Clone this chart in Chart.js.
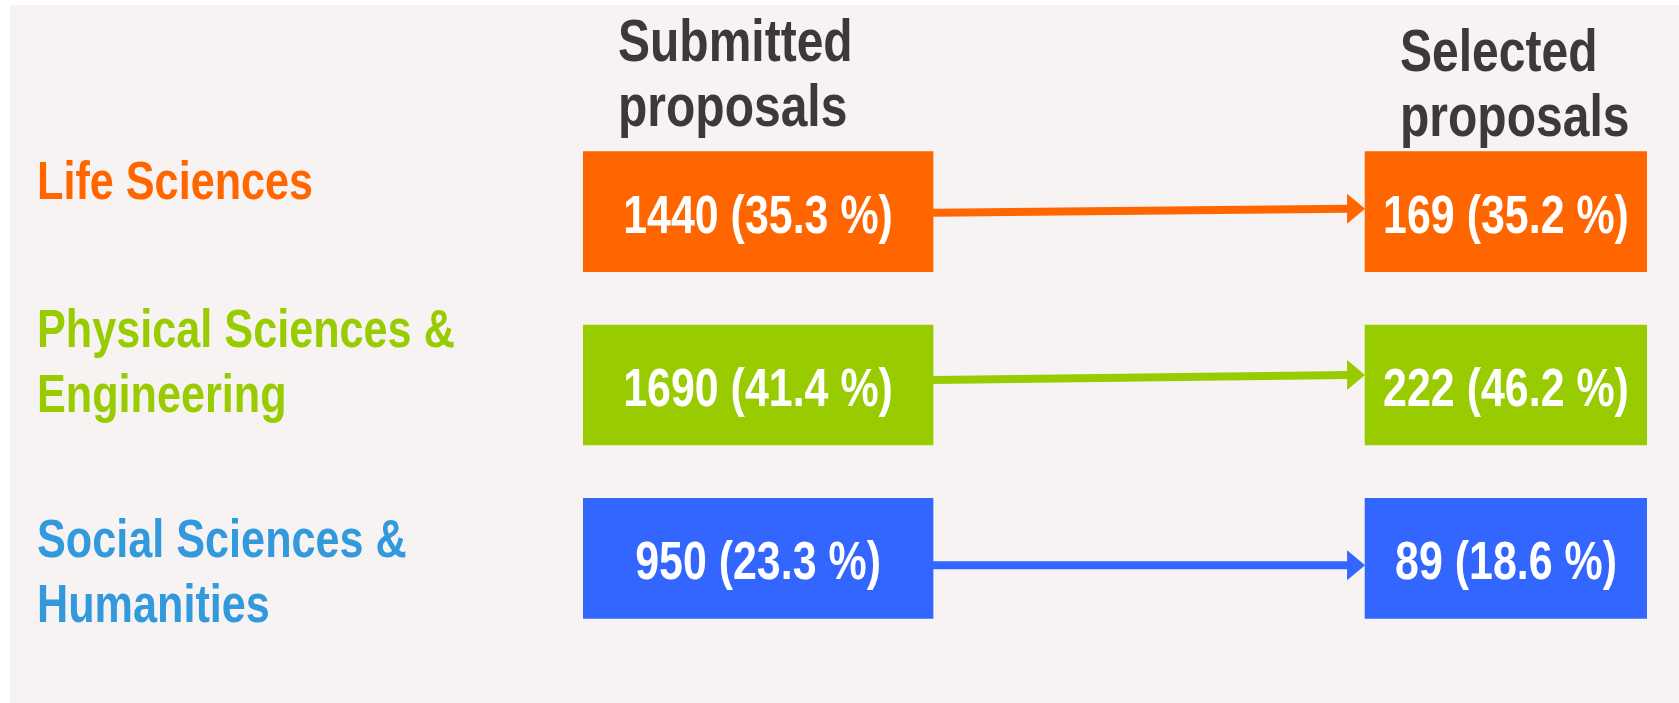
<!DOCTYPE html>
<html>
<head>
<meta charset="utf-8">
<script src="https://cdn.jsdelivr.net/npm/chart.js@4.4.0/dist/chart.umd.min.js"></script>
<style>
  html, body { margin: 0; padding: 0; background: #ffffff; }
  #wrap { width: 1679px; height: 703px; }
</style>
</head>
<body>
<div id="wrap"><canvas id="chart" width="1679" height="703"></canvas></div>
<script>
// data
let fields = ['Life Sciences', 'Physical Sciences & Engineering', 'Social Sciences & Humanities'];
let fieldLines = [['Life Sciences'], ['Physical Sciences &', 'Engineering'], ['Social Sciences &', 'Humanities']];
let columns = ['Submitted proposals', 'Selected proposals'];
let columnLines = [['Submitted', 'proposals'], ['Selected', 'proposals']];
let submitted = [1440, 1690, 950];
let submittedPct = [35.3, 41.4, 23.3];
let selected = [169, 222, 89];
let selectedPct = [35.2, 46.2, 18.6];

// look and layout
let boxColors = ['#ff6600', '#99cc00', '#3366ff'];
let labelColors = ['#ff6600', '#99cc00', '#3399dd'];
let headColor = '#3f3838';
let bgColor = '#f7f3f3';
let colSpans = [[0, 0.329], [0.735, 1]];
let labelDy = [-13, -38, -1];
let arrowDy = [[1, -3], [-5, -10], [7, 7]];
let headDy = [-91, -81];
let fontFamily = "'Liberation Sans', Arial, sans-serif";

function drawText(ctx, text, x, y, size, color, align, sx) {
  ctx.save();
  ctx.translate(x, y);
  ctx.scale(sx, 1);
  ctx.font = 'bold ' + size + 'px ' + fontFamily;
  ctx.fillStyle = color;
  ctx.textAlign = align;
  ctx.textBaseline = 'alphabetic';
  ctx.fillText(text, 0, 0);
  ctx.restore();
}

function drawArrow(ctx, x1, y1, x2, y2, color) {
  let headLen = 18, headHalf = 15;
  ctx.save();
  ctx.strokeStyle = color;
  ctx.fillStyle = color;
  ctx.lineWidth = 8;
  ctx.beginPath();
  ctx.moveTo(x1, y1);
  ctx.lineTo(x2 - headLen + 2, y2);
  ctx.stroke();
  ctx.beginPath();
  ctx.moveTo(x2, y2);
  ctx.lineTo(x2 - headLen, y2 - headHalf);
  ctx.lineTo(x2 - headLen, y2 + headHalf);
  ctx.closePath();
  ctx.fill();
  ctx.restore();
}

let bgPlugin = {
  id: 'bg',
  beforeDraw(chart) {
    let ctx = chart.ctx;
    ctx.save();
    ctx.fillStyle = '#ffffff';
    ctx.fillRect(0, 0, chart.width, chart.height);
    ctx.fillStyle = bgColor;
    ctx.fillRect(10, 5, chart.width - 10, chart.height - 5);
    ctx.restore();
  }
};

let textPlugin = {
  id: 'texts',
  afterDatasetsDraw(chart) {
    let ctx = chart.ctx;
    let subMeta = chart.getDatasetMeta(0).data;
    let selMeta = chart.getDatasetMeta(1).data;

    // column headers
    [subMeta[0], selMeta[0]].forEach((bar, c) => {
      let top = bar.y - bar.height / 2;
      columnLines[c].forEach((line, k) => {
        drawText(ctx, line, bar.base + 35, top + headDy[c] + k * 65, 60, headColor, 'left', 0.8);
      });
    });

    for (let i = 0; i < fields.length; i++) {
      let a = subMeta[i], b = selMeta[i];

      // field label on the left
      fieldLines[i].forEach((line, k) => {
        drawText(ctx, line, 37, a.y + labelDy[i] + k * 65, 54, labelColors[i], 'left', 0.8);
      });

      // arrow between boxes
      drawArrow(ctx, a.x, a.y + arrowDy[i][0], b.base, b.y + arrowDy[i][1], boxColors[i]);

      // numbers in boxes
      let t1 = submitted[i] + ' (' + submittedPct[i].toFixed(1) + ' %)';
      let t2 = selected[i] + ' (' + selectedPct[i].toFixed(1) + ' %)';
      drawText(ctx, t1, (a.base + a.x) / 2, a.y + 21, 53, '#ffffff', 'center', 0.81);
      drawText(ctx, t2, (b.base + b.x) / 2, b.y + 21, 53, '#ffffff', 'center', 0.81);
    }
  }
};

let chart = new Chart(document.getElementById('chart'), {
  type: 'bar',
  data: {
    labels: fields,
    datasets: columns.map((name, c) => ({
      label: name,
      data: fields.map(() => colSpans[c].slice()),
      backgroundColor: boxColors,
      borderWidth: 0,
      grouped: false,
      barThickness: 120
    }))
  },
  options: {
    indexAxis: 'y',
    responsive: false,
    animation: false,
    layout: { padding: { left: 583, right: 32, top: 125, bottom: 58 } },
    plugins: {
      legend: { display: false },
      tooltip: { enabled: false }
    },
    scales: {
      x: { type: 'linear', min: 0, max: 1, display: false },
      y: { type: 'category', display: false, offset: true }
    }
  },
  plugins: [bgPlugin, textPlugin]
});
</script>
</body>
</html>
